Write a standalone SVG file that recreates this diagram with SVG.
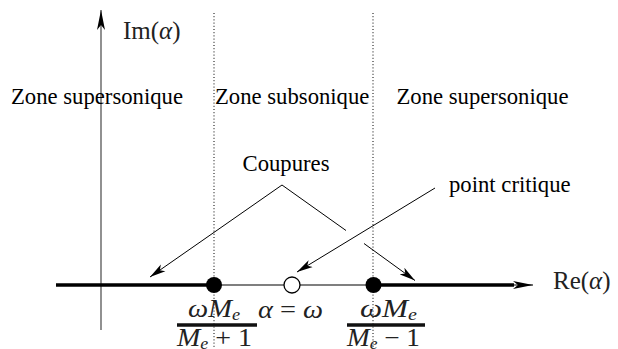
<svg xmlns="http://www.w3.org/2000/svg" width="618" height="349" viewBox="0 0 618 349">
  <style>
    .txt { font-family: "Liberation Serif", "Times New Roman", serif; font-size: 22.7px; fill: #000; }
    .math { font-family: "Liberation Serif", "Times New Roman", serif; font-size: 25px; fill: #222; }
    .it { font-style: italic; }
    .sub { font-size: 16px; font-style: italic; }
    .axis { stroke: #555; stroke-width: 1.3; fill: none; }
    .cut { stroke: #000; stroke-width: 3.5; fill: none; }
    .dotted { stroke: #000; stroke-width: 1; stroke-dasharray: 1 2.2; fill: none; }
    .conn { stroke: #000; stroke-width: 1; fill: none; }
    .bar { stroke: #111; stroke-width: 3.5; }
  </style>
  <defs>
    <marker id="arr" markerUnits="userSpaceOnUse" viewBox="0 0 16 10" refX="16" refY="5" markerWidth="16" markerHeight="10" orient="auto">
      <path d="M0,1 L16,5 L0,9 L4,5 z" fill="#000"/>
    </marker>
    <marker id="axarr" markerUnits="userSpaceOnUse" viewBox="0 0 20 10" refX="20" refY="5" markerWidth="20" markerHeight="10" orient="auto">
      <path d="M0,1 L20,5 L0,9 L5,5 z" fill="#000"/>
    </marker>
  </defs>

  <g id="axes">
    <line class="axis" x1="101" y1="330" x2="101" y2="10" marker-end="url(#axarr)"/>
    <line class="axis" x1="56" y1="285" x2="533" y2="285" marker-end="url(#axarr)"/>
    <line class="cut" x1="56" y1="285" x2="214" y2="285"/>
    <line class="cut" x1="373" y1="285" x2="514" y2="285"/>
    <text class="math" x="123" y="38.5">Im(<tspan class="it">α</tspan>)</text>
    <text class="math" x="553" y="289">Re(<tspan class="it">α</tspan>)</text>
  </g>

  <g id="boundaries">
    <line class="dotted" x1="214" y1="13" x2="214" y2="349"/>
    <line class="dotted" x1="373" y1="13" x2="373" y2="349"/>
  </g>

  <g id="zones">
    <text class="txt" x="11" y="103.5">Zone supersonique</text>
    <text class="txt" x="215" y="103.5">Zone subsonique</text>
    <text class="txt" x="396.5" y="103.5">Zone supersonique</text>
  </g>

  <g id="label-coupures">
    <text class="txt" x="242.5" y="171">Coupures</text>
  </g>
  <g id="label-point-critique">
    <text class="txt" x="449" y="192">point critique</text>
  </g>

  <g id="connectors">
    <line class="conn" x1="282" y1="185" x2="150" y2="277" marker-end="url(#arr)"/>
    <line class="conn" x1="282" y1="185" x2="346" y2="230.5"/>
    <line class="conn" x1="364" y1="243.5" x2="415" y2="280.5" marker-end="url(#arr)"/>
    <line class="conn" x1="435" y1="188" x2="297" y2="272" marker-end="url(#arr)"/>
  </g>

  <g id="node-left">
    <circle cx="214" cy="285" r="8" fill="#000"/>
    <text class="math" x="188" y="317" textLength="52" lengthAdjust="spacingAndGlyphs"><tspan class="it">ωM</tspan><tspan class="sub" dy="3">e</tspan></text>
    <line class="bar" x1="177" y1="325" x2="257" y2="325"/>
    <text class="math" x="177" y="346" textLength="75" lengthAdjust="spacingAndGlyphs"><tspan class="it">M</tspan><tspan class="sub" dy="3">e</tspan><tspan dy="-3"> + 1</tspan></text>
  </g>

  <g id="node-critical">
    <circle cx="292" cy="285" r="8" fill="#fff" stroke="#000" stroke-width="1.3"/>
    <text class="math" x="258" y="318" textLength="65" lengthAdjust="spacingAndGlyphs"><tspan class="it">α</tspan> = <tspan class="it">ω</tspan></text>
  </g>

  <g id="node-right">
    <circle cx="373.5" cy="285" r="8" fill="#000"/>
    <text class="math" x="360" y="317" textLength="57" lengthAdjust="spacingAndGlyphs"><tspan class="it">ωM</tspan><tspan class="sub" dy="3">e</tspan></text>
    <line class="bar" x1="347" y1="325" x2="425" y2="325"/>
    <text class="math" x="347" y="346" textLength="73" lengthAdjust="spacingAndGlyphs"><tspan class="it">M</tspan><tspan class="sub" dy="3">e</tspan><tspan dy="-3"> − 1</tspan></text>
  </g>
</svg>
